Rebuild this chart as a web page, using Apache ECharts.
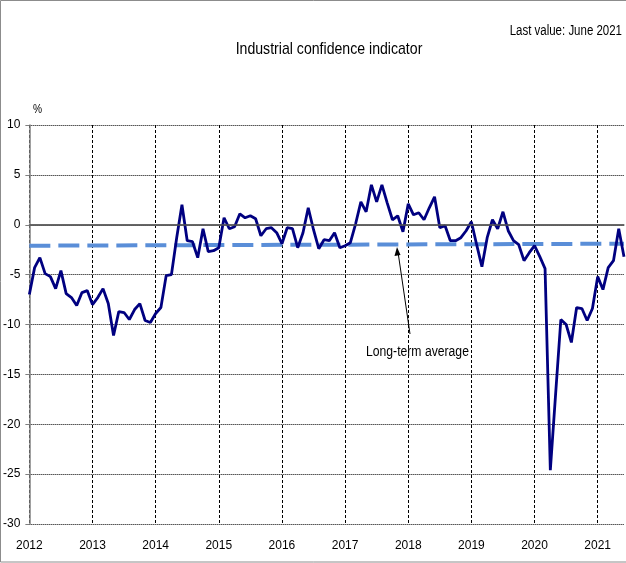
<!DOCTYPE html>
<html>
<head>
<meta charset="utf-8">
<title>Industrial confidence indicator</title>
<script src="https://cdn.jsdelivr.net/npm/echarts@6/dist/echarts.min.js"></script>
<style>
  html, body { margin: 0; padding: 0; background: #fff; }
  #chart { width: 626px; height: 563px; }
</style>
</head>
<body>
<div id="chart"></div>
<script>
// tick labels on the x axis, one per January
var years = ['2012', '2013', '2014', '2015', '2016', '2017', '2018', '2019', '2020', '2021']
var lastMonth = 6 // June 2021

// monthly values, Jan 2012 - Jun 2021
var confidence = [
  -7.0, -4.3, -3.3, -4.9, -5.2, -6.4, -4.6, -6.9, -7.3, -8.1, -6.8, -6.6,
  -8.0, -7.3, -6.4, -7.9, -11.1, -8.7, -8.8, -9.5, -8.5, -7.9, -9.6, -9.8,
  -8.9, -8.3, -5.1, -5.0, -1.3, 2.0, -1.6, -1.7, -3.3, -0.4, -2.7, -2.6,
  -2.3, 0.7, -0.4, -0.2, 1.1, 0.7, 0.9, 0.6, -1.1, -0.4, -0.3, -0.8,
  -1.9, -0.3, -0.4, -2.3, -0.8, 1.7, -0.5, -2.4, -1.5, -1.6, -0.8, -2.3,
  -2.1, -1.8, 0.1, 2.3, 1.3, 4.0, 2.3, 4.0, 2.2, 0.5, 0.9, -0.7,
  2.1, 1.0, 1.2, 0.5, 1.7, 2.8, -0.3, -0.1, -1.6, -1.6, -1.3, -0.6,
  0.3, -2.0, -4.2, -1.3, 0.5, -0.4, 1.3, -0.6, -1.6, -2.0, -3.6, -2.8,
  -2.1, -3.2, -4.4, -24.6, -17.0, -9.5, -10.0, -11.8, -8.3, -8.4, -9.6, -8.4,
  -5.2, -6.5, -4.3, -3.6, -0.4, -3.2
]

// long-term average, value at first and last month
var avgStart = -2.1
var avgEnd = -1.9

var months = []
years.forEach(function (y, i) {
  var n = i === years.length - 1 ? lastMonth : 12
  for (var m = 1; m <= n; m++) {
    months.push(y + '-' + (m < 10 ? '0' + m : m))
  }
})

var avgData = months.map(function (m, i) {
  if (i === 0) return avgStart
  if (i === months.length - 1) return avgEnd
  return null
})

var font = '"Liberation Sans", Arial, sans-serif'

var chart = echarts.init(document.getElementById('chart'), null, { renderer: 'canvas' })

chart.setOption({
  animation: false,
  backgroundColor: '#fff',
  textStyle: { fontFamily: font, color: '#000' },
  grid: {
    left: 29,
    right: 2,
    top: 125,
    bottom: 39
  },
  xAxis: {
    type: 'category',
    data: months,
    boundaryGap: false,
    axisLine: { lineStyle: { color: '#808080', width: 1.5 } },
    axisTick: { show: false },
    axisLabel: {
      interval: 11,
      margin: 16,
      fontSize: 12,
      color: '#000',
      fontFamily: font,
      formatter: function (v) { return v.slice(0, 4) }
    },
    splitLine: {
      show: true,
      interval: 11,
      lineStyle: { color: '#000', width: 1, type: [3, 2] }
    }
  },
  yAxis: {
    type: 'value',
    min: -30,
    max: 10,
    interval: 5,
    axisLine: { show: true, lineStyle: { color: '#808080', width: 1.5 } },
    axisTick: { show: true, length: 4, lineStyle: { color: '#808080' } },
    axisLabel: { margin: 9, fontSize: 12, color: '#000', fontFamily: font },
    splitLine: { lineStyle: { color: '#000', width: 1, type: 'dotted' } }
  },
  series: [
    {
      name: 'Long-term average',
      type: 'line',
      data: avgData,
      connectNulls: true,
      symbol: 'none',
      lineStyle: { color: '#5a8ed8', width: 4, type: [21, 8] },
      z: 2,
      markLine: {
        silent: true,
        symbol: 'none',
        label: { show: false },
        lineStyle: { color: '#555', width: 1.5, type: 'solid' },
        data: [{ yAxis: 0 }]
      }
    },
    {
      name: 'Industrial confidence indicator',
      type: 'line',
      data: confidence,
      symbol: 'none',
      lineStyle: { color: '#000080', width: 2.8 },
      z: 3
    }
  ],
  graphic: [
    {
      type: 'rect',
      silent: true,
      shape: { x: 0.5, y: 0.5, width: 640, height: 561.5 },
      style: { fill: 'none', stroke: '#8c8c8c', lineWidth: 1 }
    },
    {
      type: 'text',
      x: 329,
      y: 49,
      scaleX: 0.83,
      style: {
        text: 'Industrial confidence indicator',
        fontSize: 17, fontFamily: font, fill: '#000',
        textAlign: 'center', textVerticalAlign: 'middle'
      }
    },
    {
      type: 'text',
      x: 622,
      y: 31,
      scaleX: 0.82,
      style: {
        text: 'Last value: June 2021',
        fontSize: 14, fontFamily: font, fill: '#000',
        textAlign: 'right', textVerticalAlign: 'middle'
      }
    },
    {
      type: 'text',
      x: 33,
      y: 110,
      scaleX: 0.85,
      style: {
        text: '%', fontSize: 12, fontFamily: font, fill: '#000',
        textVerticalAlign: 'middle'
      }
    },
    {
      type: 'text',
      x: 366,
      y: 352,
      scaleX: 0.87,
      style: {
        text: 'Long-term average', fontSize: 14, fontFamily: font, fill: '#000',
        textVerticalAlign: 'middle'
      }
    },
    {
      type: 'line',
      silent: true,
      shape: { x1: 410, y1: 334, x2: 398, y2: 252 },
      style: { stroke: '#000', lineWidth: 1 }
    },
    {
      type: 'polygon',
      silent: true,
      shape: { points: [[397, 247], [394.5, 256], [400.5, 255]] },
      style: { fill: '#000' }
    }
  ]
})
</script>
</body>
</html>
